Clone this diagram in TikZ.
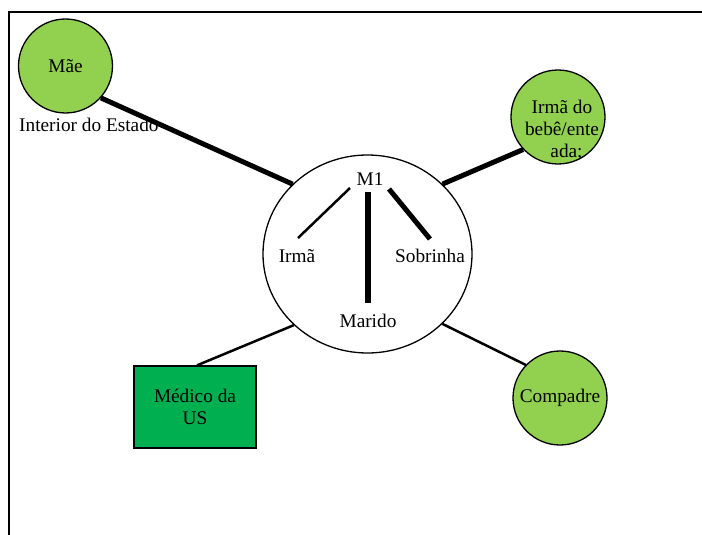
\documentclass[tikz,border=0pt]{standalone}
\usepackage{fontspec}
\setmainfont{Liberation Serif}
\usetikzlibrary{shapes.geometric}
\definecolor{leaf}{HTML}{92D050}
\definecolor{doc}{HTML}{00B050}
\begin{document}
\begin{tikzpicture}[x=1pt,y=-1pt,
  every node/.style={font=\fontsize{19.3}{22}\selectfont},
  person/.style={circle,draw,line width=1.3pt,fill=leaf,minimum size=94pt,inner sep=0pt},
  hub/.style={ellipse,draw,line width=1.3pt,fill=white,minimum width=209pt,minimum height=198pt,inner sep=0pt},
  box/.style={rectangle,draw,line width=1.3pt,fill=doc,minimum width=122pt,minimum height=82pt,inner sep=0pt},
  label/.style={inner sep=0pt},
  strong/.style={line width=5pt},
  weak/.style={line width=2.5pt}]
\useasboundingbox (0,0) rectangle (702,535);
% page frame (top and left edges)
\draw[line width=2pt] (702,12) -- (9,12) -- (9,535);

% central ego network
\node[hub] (c) at (367.5,254) {};
\node[label] (m1) at (370,179) {M1};
\node[label] (irma) at (297,256) {Irmã};
\node[label] (sob) at (430,256) {Sobrinha};
\node[label] (mar) at (368,321) {Marido};
\coordinate (i1) at (350,188);
\coordinate (i2) at (298,238);
\coordinate (h1) at (368,192);
\coordinate (h2) at (368,303);
\coordinate (s1) at (389,189);
\coordinate (s2) at (430,239);
\draw[weak] (i1) -- (i2);
\draw[line width=6pt] (h1) -- (h2);
\draw[strong] (s1) -- (s2);

% outer contacts
\node[person] (mae) at (65.5,66) {Mãe};
\node[label,anchor=west] (interior) at (19,125) {Interior do Estado};
\node[person] (bebe) at (558,117) {};
\node[label,align=center] (bebetxt) at (562,130) {Irmã do\\bebê/ente\\\hspace*{9pt}ada;};
\node[person] (comp) at (560,398) {Compadre};
\node[box,align=center] (med) at (195,407) {Médico da\\US};

% ties to the centre
\draw[strong] (mae.-42) -- (c.137.2);
\draw[strong] (bebe.223) -- (c.43.4);
\draw[weak] (med.north) ++(2,0) coordinate (mn) (mn) -- (c.224.4);
\draw[weak] (comp.136.7) -- (c.-43.8);
\end{tikzpicture}
\end{document}
